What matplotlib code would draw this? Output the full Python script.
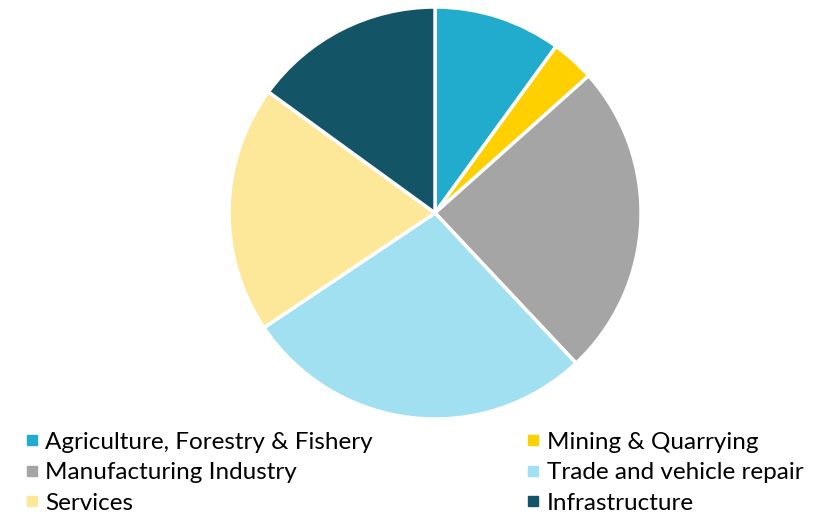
import matplotlib.pyplot as plt
from matplotlib.lines import Line2D

sectors = ['Agriculture, Forestry & Fishery', 'Mining & Quarrying',
           'Manufacturing Industry', 'Trade and vehicle repair',
           'Services', 'Infrastructure']
shares = [10.0, 3.4, 24.6, 27.6, 19.4, 15.0]
colors = ['#21abcd', '#ffd000', '#a5a5a5', '#a0e0f0', '#fde89a', '#135567']

plt.rcParams['font.family'] = ['Lato', 'DejaVu Sans']

fig = plt.figure(figsize=(8.28, 5.14), dpi=100)
ax = fig.add_axes([0.2766, 0.1848, 0.4976, 0.8016])
ax.pie(shares, colors=colors, startangle=90, counterclock=False,
       wedgeprops=dict(edgecolor='white', linewidth=2.5))
ax.set_xlim(-1, 1)
ax.set_ylim(-1, 1)
ax.set_aspect('equal')

handles = [Line2D([], [], marker='s', linestyle='', markersize=7,
                  color=c, label=s) for s, c in zip(sectors, colors)]
# left column: 0, 2, 4 ; right column: 1, 3, 5
order = [0, 2, 4, 1, 3, 5]
fig.legend([handles[i] for i in order], [sectors[i] for i in order],
           ncol=2, loc='upper left', bbox_to_anchor=(0.03, 0.16),
           frameon=False, fontsize=17.5, handlelength=0.55, handletextpad=0.3,
           labelspacing=0.39, columnspacing=6.3, borderaxespad=0,
           borderpad=0)

fig.savefig('out.png', dpi=100)
